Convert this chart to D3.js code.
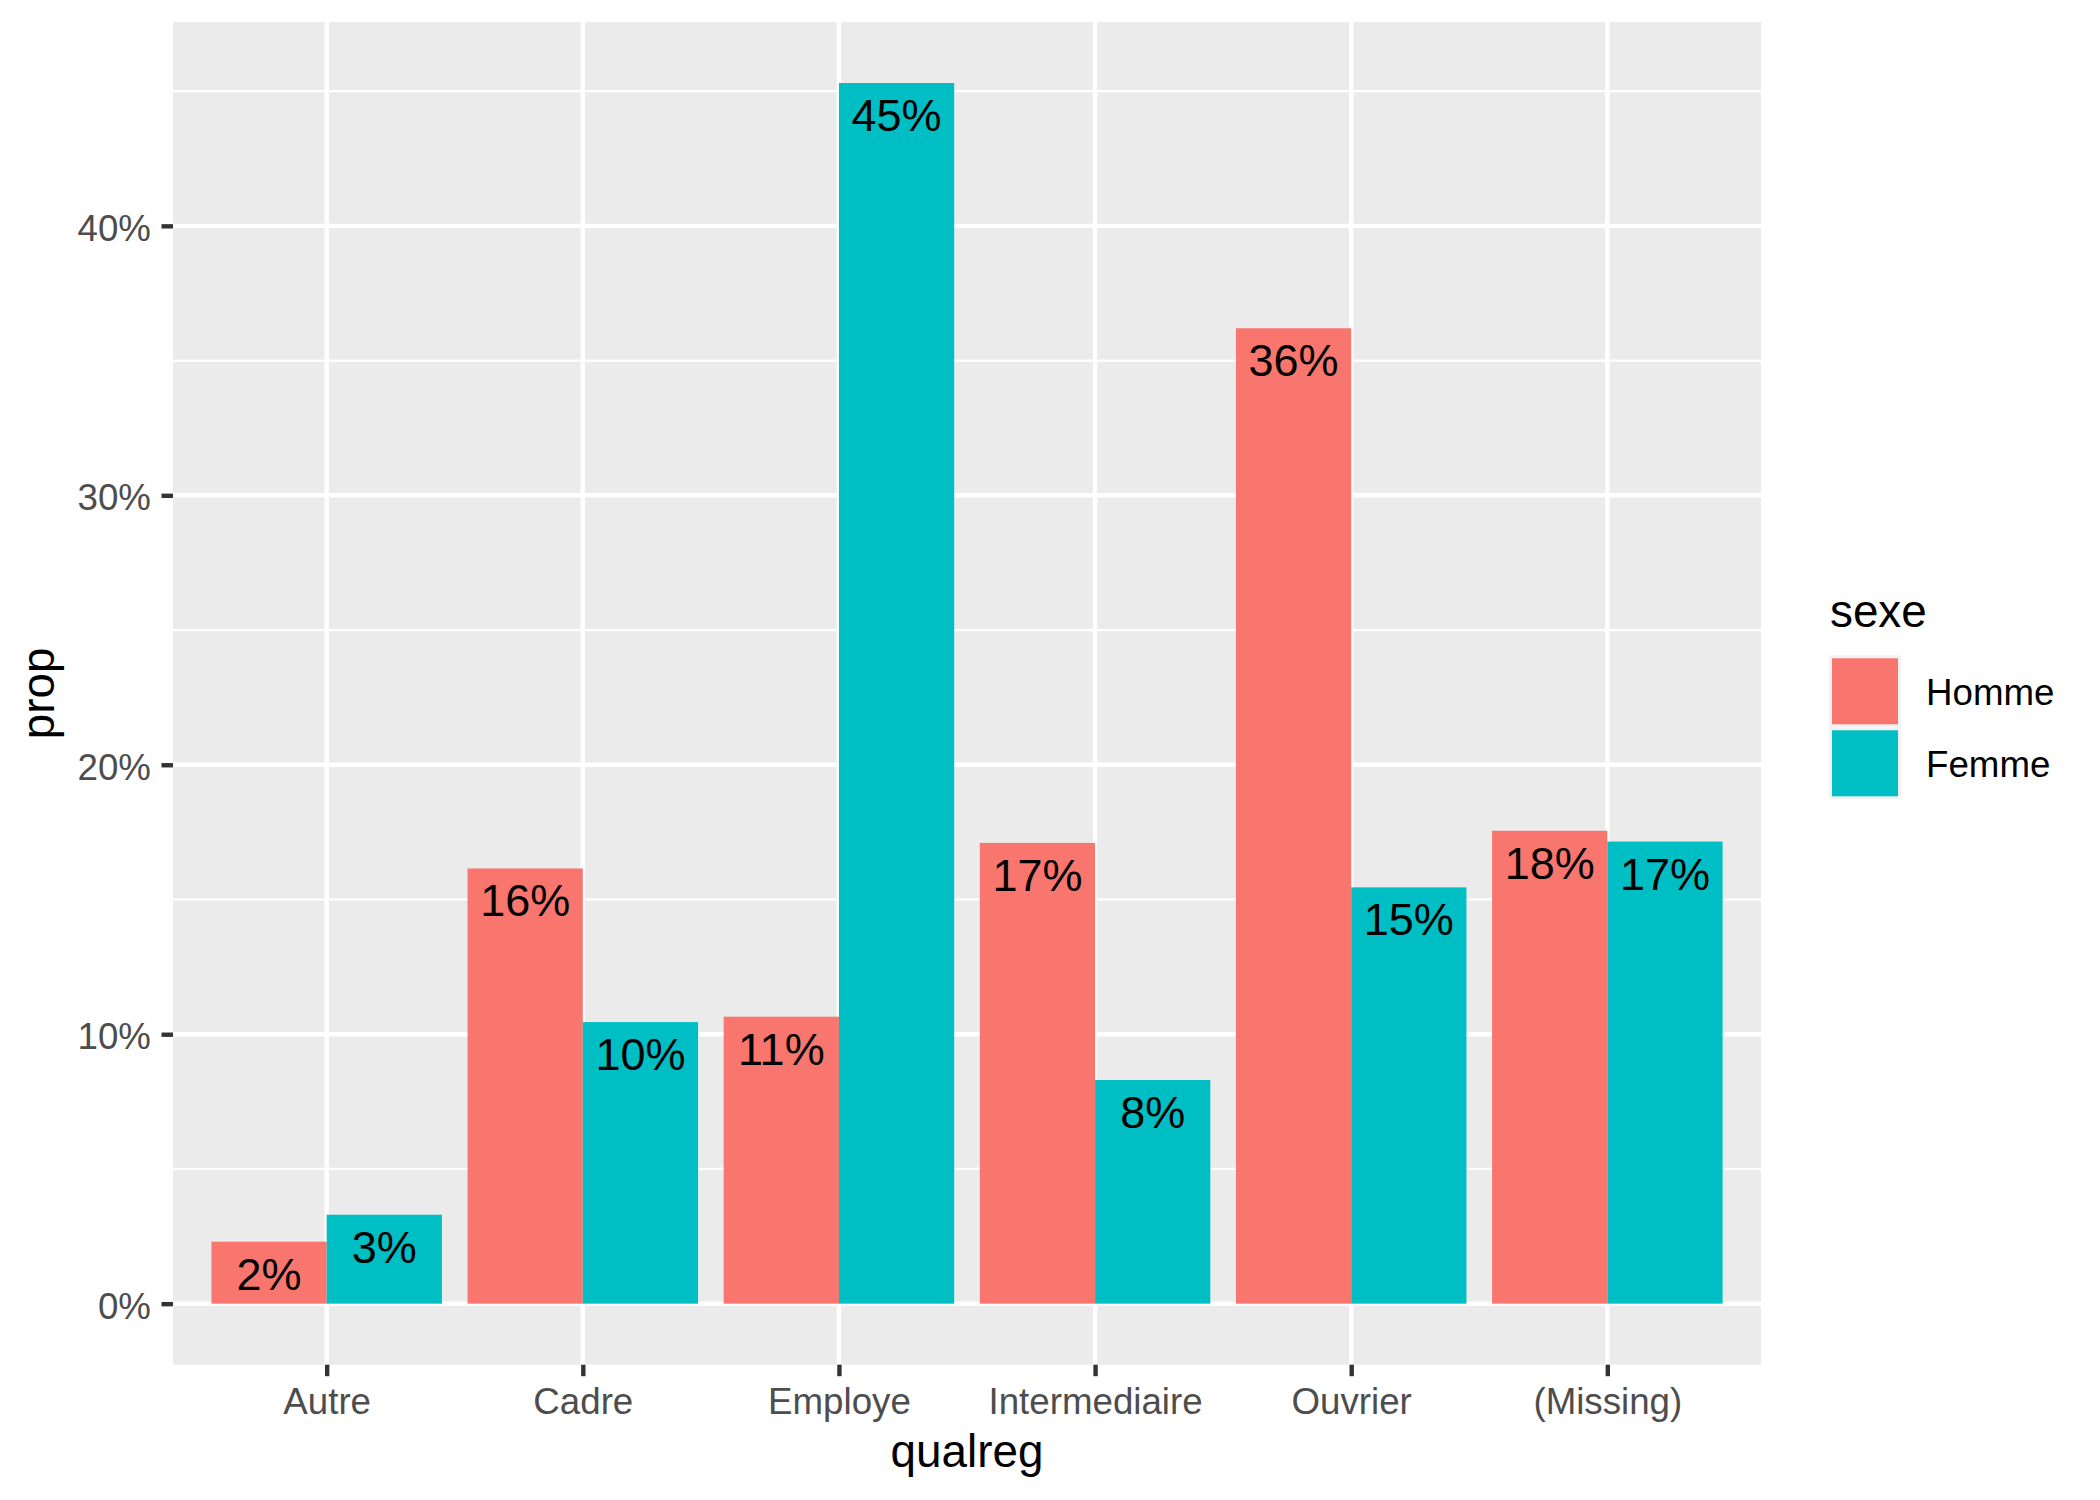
<!DOCTYPE html>
<html>
<head>
<meta charset="utf-8">
<script src="https://cdn.jsdelivr.net/npm/d3@7"></script>
<style>
  body { margin: 0; background: #ffffff; }
  text { font-family: "Liberation Sans", Arial, sans-serif; }
</style>
</head>
<body>
<script>
var width = 2100;
var height = 1500;

// panel box (pixels)
var panelLeft = 173;
var panelRight = 1761;
var panelTop = 22;
var panelBottom = 1364.7;

// data
var categories = ["Autre", "Cadre", "Employe", "Intermediaire", "Ouvrier", "(Missing)"];
var groups = ["Homme", "Femme"];
var homme = [2.3, 16.15, 10.65, 17.1, 36.2, 17.55];
var femme = [3.3, 10.45, 45.3, 8.3, 15.45, 17.15];
var yTicks = [0, 10, 20, 30, 40];
var yMinor = [5, 15, 25, 35, 45];
var colors = ["#F8766D", "#00BFC4"];

var rows = [];
categories.forEach(function(c, i) {
  rows.push({ cat: c, group: "Homme", prop: homme[i] });
  rows.push({ cat: c, group: "Femme", prop: femme[i] });
});

var maxProp = d3.max(rows, d => d.prop);
var pad = maxProp * 0.05; // ggplot expansion

var xScale = d3.scalePoint()
  .domain(categories)
  .range([panelLeft, panelRight])
  .padding(0.6);

var halfBar = 0.45 * xScale.step();

var yScale = d3.scaleLinear()
  .domain([0 - pad, maxProp + pad])
  .range([panelBottom, panelTop]);

var color = d3.scaleOrdinal().domain(groups).range(colors);

let svg = d3.select("body")
  .append("svg")
  .attr("width", width)
  .attr("height", height);

svg.append("rect")
  .attr("width", width).attr("height", height)
  .attr("fill", "#ffffff");

// panel background
svg.append("rect")
  .attr("x", panelLeft).attr("y", panelTop)
  .attr("width", panelRight - panelLeft)
  .attr("height", panelBottom - panelTop)
  .attr("fill", "#EBEBEB");

// grid
svg.selectAll(".minor")
  .data(yMinor)
  .join("line")
    .attr("x1", panelLeft).attr("x2", panelRight)
    .attr("y1", d => yScale(d)).attr("y2", d => yScale(d))
    .attr("stroke", "#ffffff")
    .attr("stroke-width", 2.2);

svg.selectAll(".majorY")
  .data(yTicks)
  .join("line")
    .attr("x1", panelLeft).attr("x2", panelRight)
    .attr("y1", d => yScale(d)).attr("y2", d => yScale(d))
    .attr("stroke", "#ffffff")
    .attr("stroke-width", 4.4);

svg.selectAll(".majorX")
  .data(categories)
  .join("line")
    .attr("x1", d => xScale(d)).attr("x2", d => xScale(d))
    .attr("y1", panelTop).attr("y2", panelBottom)
    .attr("stroke", "#ffffff")
    .attr("stroke-width", 4.4);

// bars
svg.selectAll(".bar")
  .data(rows)
  .join("rect")
    .attr("x", d => d.group == "Homme" ? xScale(d.cat) - halfBar : xScale(d.cat))
    .attr("y", d => yScale(d.prop))
    .attr("width", halfBar)
    .attr("height", d => yScale(0) - yScale(d.prop))
    .attr("fill", d => color(d.group));

// labels inside bar tops
svg.selectAll(".lab")
  .data(rows)
  .join("text")
    .attr("x", d => d.group == "Homme" ? xScale(d.cat) - halfBar / 2 : xScale(d.cat) + halfBar / 2)
    .attr("y", d => yScale(d.prop) + 48)
    .attr("text-anchor", "middle")
    .attr("font-size", "45px")
    .attr("fill", "#000000")
    .text(d => Math.round(d.prop) + "%");

// axes
var xAxis = d3.axisBottom(xScale).tickSize(11.5).tickPadding(11.8);
var yAxis = d3.axisLeft(yScale).tickValues(yTicks).tickSize(11.5).tickPadding(10.5)
  .tickFormat(d => d + "%");

var gx = svg.append("g")
  .attr("transform", `translate(0,${panelBottom})`)
  .call(xAxis);

var gy = svg.append("g")
  .attr("transform", `translate(${panelLeft},0)`)
  .call(yAxis);

[gx, gy].forEach(function(g) {
  g.select(".domain").remove();
  g.selectAll(".tick line").attr("stroke", "#333333").attr("stroke-width", 4.4);
  g.selectAll(".tick text")
    .attr("fill", "#4D4D4D")
    .attr("font-size", "36.7px")
    .attr("font-family", "Liberation Sans, Arial, sans-serif");
});
gy.selectAll(".tick text").attr("dy", "0.4em");

// axis titles
svg.append("text")
  .attr("x", (panelLeft + panelRight) / 2)
  .attr("y", 1466.7)
  .attr("text-anchor", "middle")
  .attr("font-size", "45.8px")
  .text("qualreg");

svg.append("text")
  .attr("transform", `translate(54,${(panelTop + panelBottom) / 2}) rotate(-90)`)
  .attr("text-anchor", "middle")
  .attr("font-size", "45.8px")
  .text("prop");

// legend
var legend = svg.append("g");

legend.append("text")
  .attr("x", 1830).attr("y", 626.7)
  .attr("font-size", "45.8px")
  .text("sexe");

var keys = legend.selectAll(".key")
  .data(groups)
  .join("g")
    .attr("transform", (d, i) => `translate(1829,${655.3 + i * 72})`);

keys.append("rect")
  .attr("width", 72).attr("height", 72)
  .attr("fill", "#F2F2F2");

keys.append("rect")
  .attr("x", 3).attr("y", 3)
  .attr("width", 66).attr("height", 66)
  .attr("fill", d => color(d));

keys.append("text")
  .attr("x", 97).attr("y", 36 + 13.4)
  .attr("font-size", "36.7px")
  .text(d => d);
</script>
</body>
</html>
